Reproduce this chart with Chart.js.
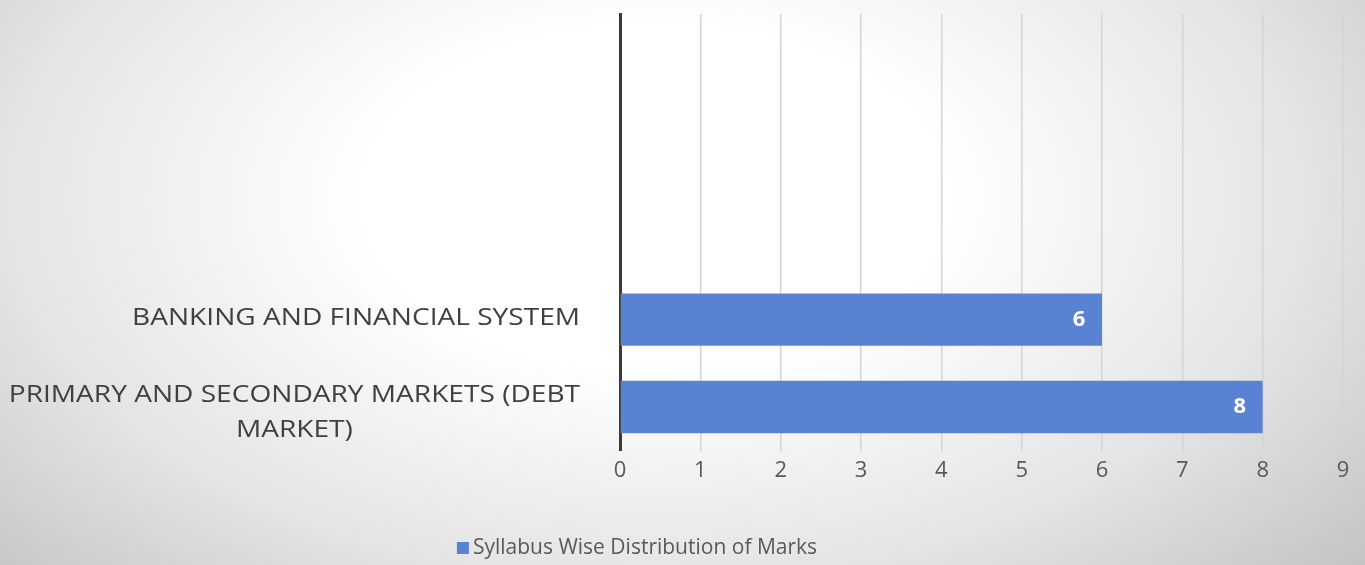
<!DOCTYPE html>
<html>
<head>
<meta charset="utf-8">
<script src="https://cdn.jsdelivr.net/npm/chart.js@4"></script>
<style>
  html, body { margin: 0; padding: 0; }
  body {
    width: 1365px;
    height: 565px;
    overflow: hidden;
    background: radial-gradient(ellipse 70% 100% at 48% 35%, #ffffff 30%, #e4e4e4 68%, #c2c2c2 100%);
  }
  #wrap { position: relative; width: 1365px; height: 565px; }
</style>
</head>
<body>
<div id="wrap"><canvas id="marksChart"></canvas></div>
<script>
const categories = [
  '',
  '',
  '',
  'BANKING AND FINANCIAL SYSTEM',
  ['PRIMARY AND SECONDARY MARKETS (DEBT', 'MARKET)'],
];
const marks = [null, null, null, 6, 8];
const xTicks = [0, 1, 2, 3, 4, 5, 6, 7, 8, 9];
const seriesName = 'Syllabus Wise Distribution of Marks';

const FONT = '"Open Sans", Lato, sans-serif';
const GREY = '#595959';
const BLUE = '#5a82d3';

// category labels: right-aligned block, lines centred inside it
// (text stretched a little sideways, the original font is wider)
const categoryLabels = {
  id: 'categoryLabels',
  afterDraw(chart) {
    const ctx = chart.ctx;
    const y = chart.scales.y;
    const sx = 1.17;
    ctx.save();
    ctx.font = '24px ' + FONT;
    ctx.fillStyle = '#404040';
    ctx.textBaseline = 'middle';
    ctx.textAlign = 'center';
    const right = chart.chartArea.left - 40;
    categories.forEach((lab, i) => {
      const lines = Array.isArray(lab) ? lab : [lab];
      if (!lines[0]) return;
      const w = sx * Math.max(...lines.map(l => ctx.measureText(l).width));
      const cx = right - w / 2;
      const lh = 35;
      const shift = lines.length > 1 ? 6 : -1;
      const top = y.getPixelForValue(i) - ((lines.length - 1) * lh) / 2 + shift;
      lines.forEach((l, j) => {
        ctx.save();
        ctx.translate(cx, top + j * lh);
        ctx.scale(sx, 1);
        ctx.fillText(l, 0, 0);
        ctx.restore();
      });
    });
    ctx.restore();
  },
};

// value labels inside the end of each bar
const valueLabels = {
  id: 'valueLabels',
  afterDatasetsDraw(chart) {
    const ctx = chart.ctx;
    const meta = chart.getDatasetMeta(0);
    ctx.save();
    ctx.font = 'bold 22px ' + FONT;
    ctx.fillStyle = '#ffffff';
    ctx.textAlign = 'center';
    ctx.textBaseline = 'middle';
    meta.data.forEach((bar, i) => {
      if (marks[i] == null) return;
      ctx.fillText(String(marks[i]), bar.x - 23, bar.y);
    });
    ctx.restore();
  },
};

// legend drawn by hand (Excel places it a bit left of centre)
const bottomLegend = {
  id: 'bottomLegend',
  afterDraw(chart) {
    const ctx = chart.ctx;
    ctx.save();
    ctx.font = '21px ' + FONT;
    const w = ctx.measureText(seriesName).width;
    const cy = 548;
    const x0 = 637 - (w + 16) / 2;
    ctx.fillStyle = BLUE;
    ctx.fillRect(x0, cy - 6, 12, 12);
    ctx.fillStyle = GREY;
    ctx.textBaseline = 'middle';
    ctx.textAlign = 'left';
    ctx.fillText(seriesName, x0 + 16, cy);
    ctx.restore();
  },
};

const ctx = document.getElementById('marksChart').getContext('2d');

const chart = new Chart(ctx, {
  type: 'bar',
  data: {
    labels: categories,
    datasets: [
      {
        label: seriesName,
        data: marks,
        backgroundColor: BLUE,
        borderWidth: 0,
        categoryPercentage: 1,
        barPercentage: 0.6,
      },
    ],
  },
  options: {
    indexAxis: 'y',
    responsive: true,
    maintainAspectRatio: false,
    animation: false,
    layout: { padding: { top: 14, right: 22, bottom: 74, left: 0 } },
    scales: {
      x: {
        min: 0,
        max: 9,
        afterBuildTicks: (s) => { s.ticks = xTicks.map(v => ({ value: v })); },
        grid: { color: '#d4d4d4', lineWidth: 1.5, tickLength: 0 },
        border: { display: false },
        ticks: {
          color: GREY,
          font: { family: FONT, size: 22 },
          padding: 7,
        },
      },
      y: {
        grid: { display: false },
        border: { display: true, color: '#3a3a3a', width: 3 },
        ticks: { display: false },
        afterFit: (s) => { s.width = 620; },
      },
    },
    plugins: {
      legend: { display: false },
      tooltip: { enabled: false },
    },
  },
  plugins: [categoryLabels, valueLabels, bottomLegend],
});
</script>
</body>
</html>
